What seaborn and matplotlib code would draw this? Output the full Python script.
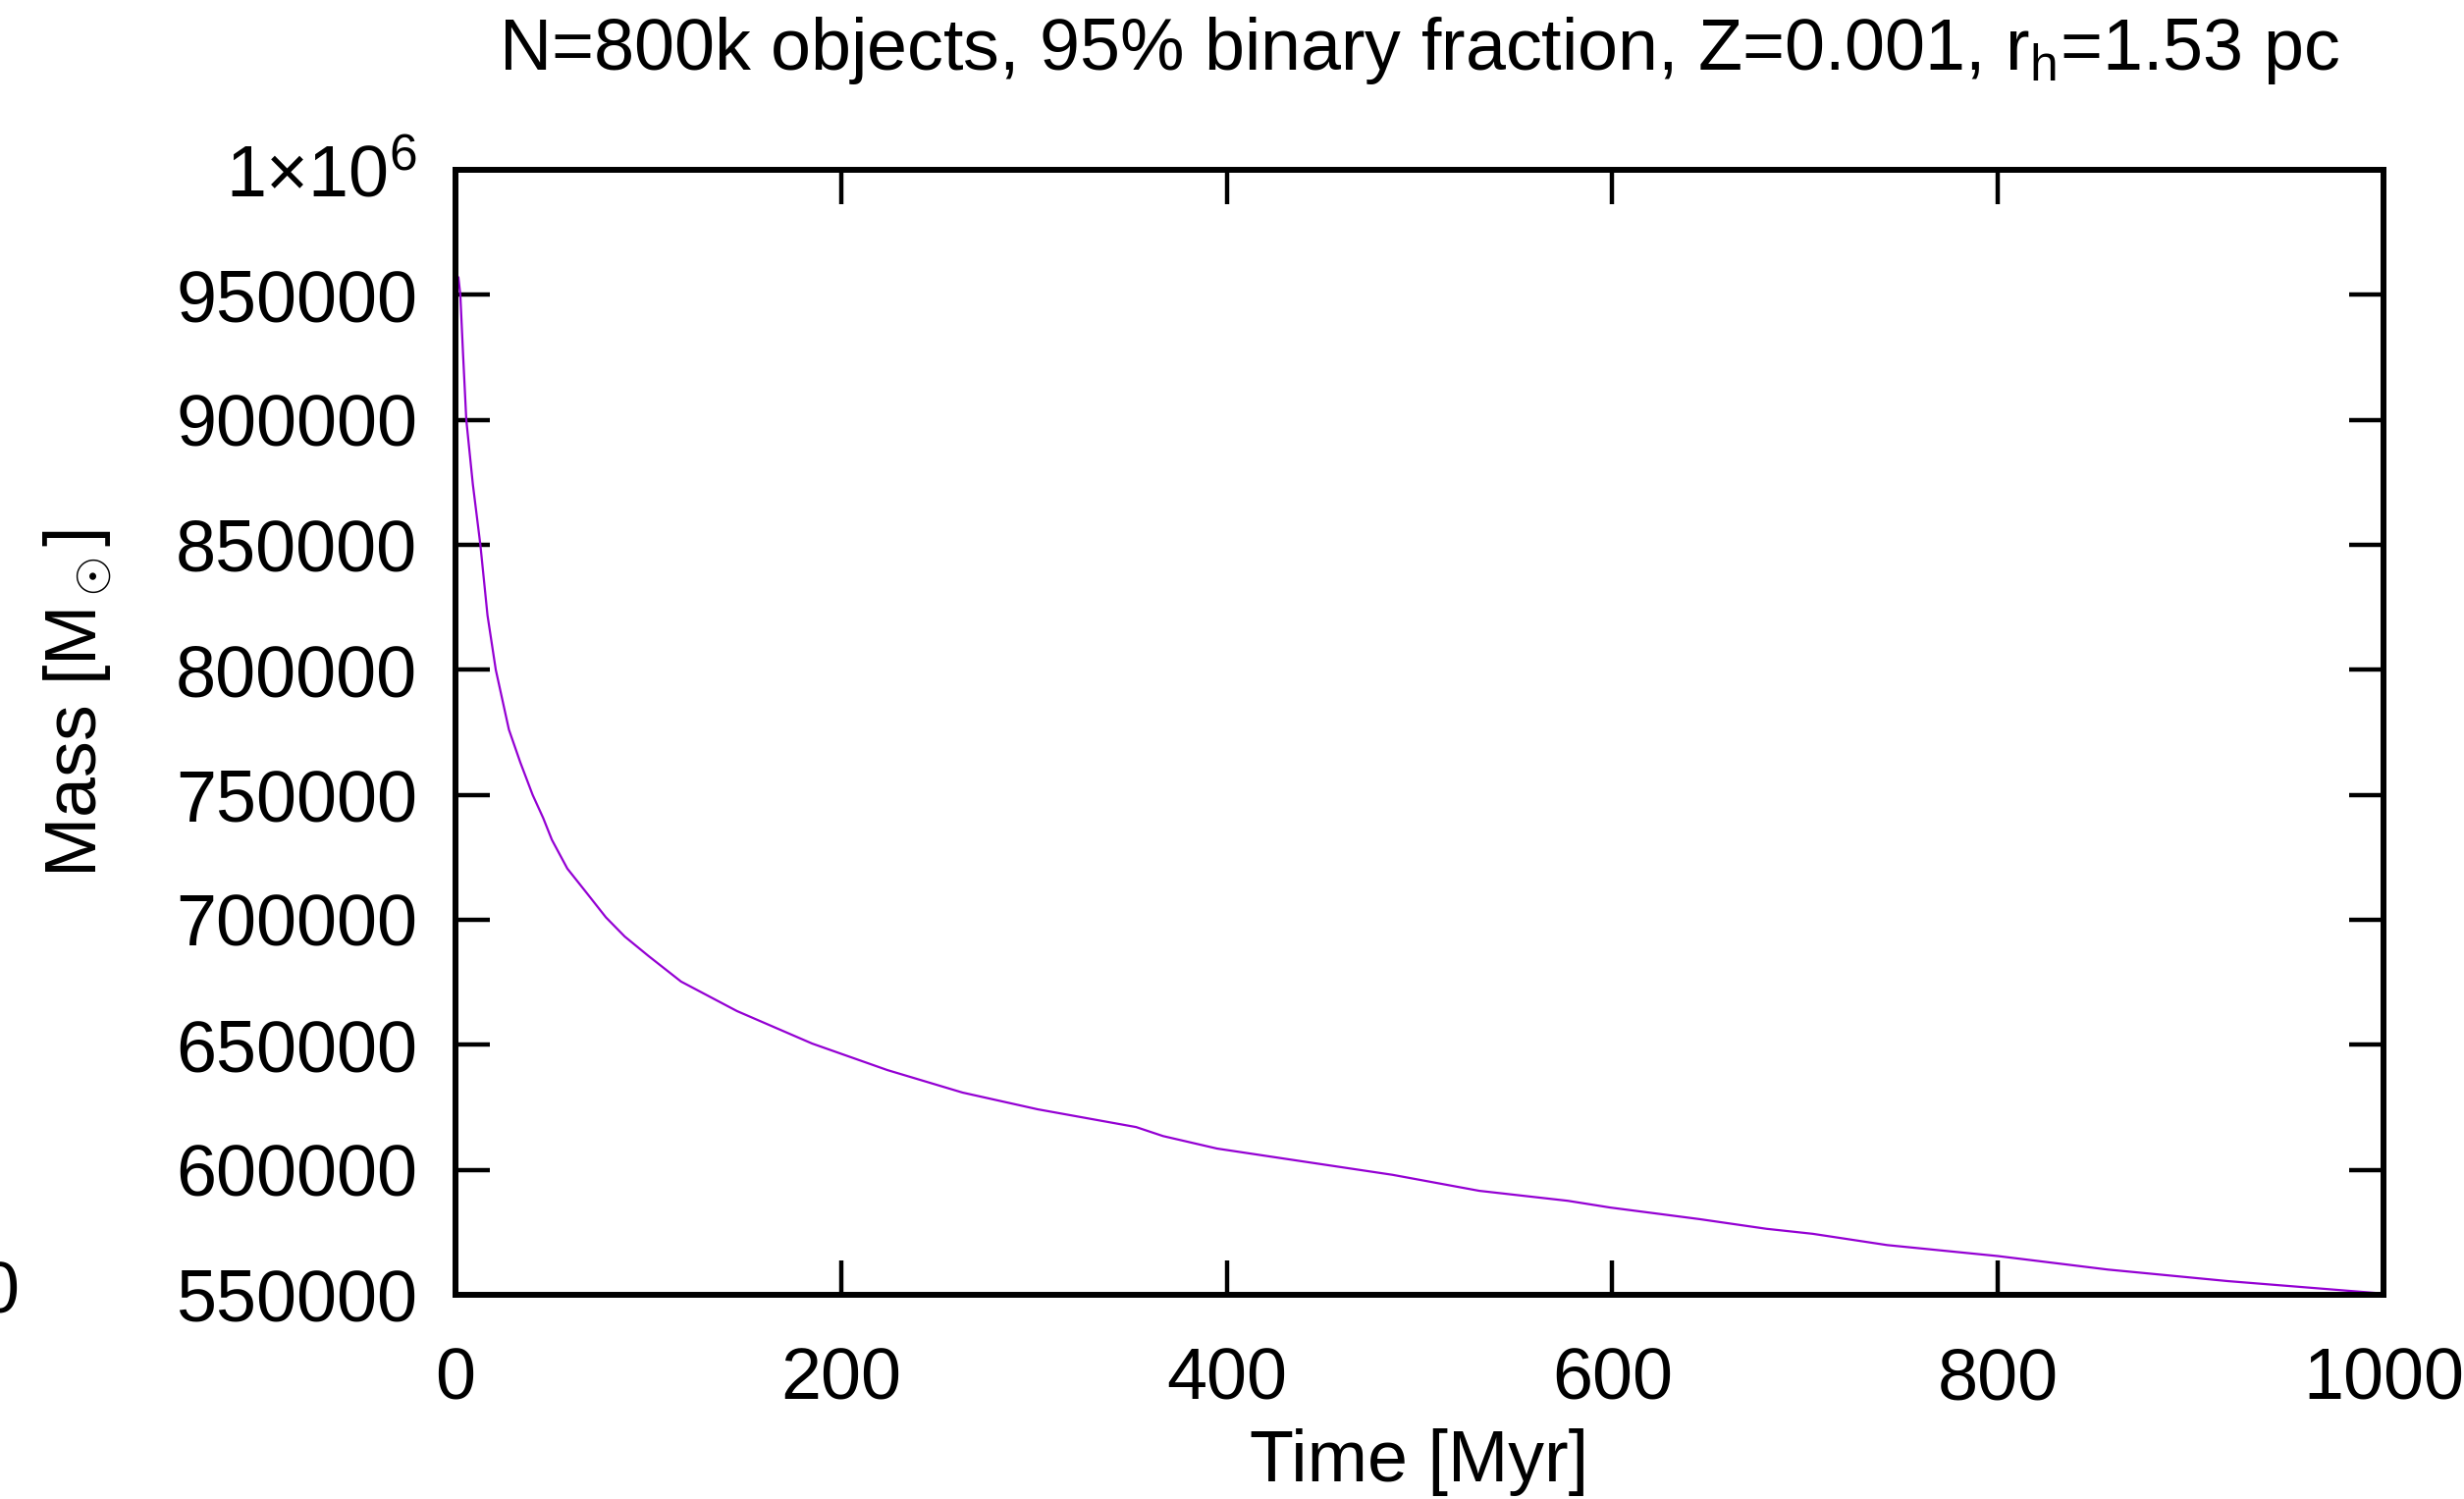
import matplotlib
matplotlib.use("Agg")
import matplotlib.pyplot as plt
import matplotlib.ticker as mticker
import seaborn as sns
import pandas as pd

# Data
time_myr = [0, 1.5, 2.5, 3.9, 5.6, 9, 12.9, 16.6, 20.9, 27.7, 33.6, 40, 45.5, 50,
            58, 68.2, 78, 87.8, 100, 117, 146, 185, 224, 263, 302, 353, 367, 395,
            440, 486, 531, 577, 599, 645, 680, 704, 742.5, 800, 857, 919, 982, 1000]
mass = [958000, 957000, 950000, 926600, 900000, 874200, 850000, 821800, 800000,
        776100, 763000, 750000, 740700, 732000, 720500, 710600, 701000, 693300,
        685600, 675300, 663500, 650500, 639900, 630900, 624200, 617100, 613500,
        608500, 603300, 598000, 591600, 587600, 584900, 580300, 576400, 574400,
        569900, 565500, 560100, 555500, 551600, 550500]
x_ticks = [0, 200, 400, 600, 800, 1000]
y_ticks = [550000, 600000, 650000, 700000, 750000, 800000, 850000, 900000, 950000, 1000000]

title = r"N=800k objects, 95% binary fraction, Z=0.001, r$_\mathregular{h}$=1.53 pc"
xlabel = "Time [Myr]"
ylabel = r"Mass [M$_\odot$]"

df = pd.DataFrame({"t": time_myr, "m": mass})

sns.set_theme(style="white")
plt.rcParams["font.family"] = ["Liberation Sans", "DejaVu Sans"]
plt.rcParams["mathtext.fontset"] = "custom"
plt.rcParams["mathtext.rm"] = "Liberation Sans"
plt.rcParams["mathtext.it"] = "Liberation Sans:italic"
plt.rcParams["mathtext.bf"] = "Liberation Sans:bold"

W, H = 2510, 1527
FS = 53
fig = plt.figure(figsize=(W / 100, H / 100), dpi=100)
fig.patch.set_facecolor("white")
ax = fig.add_axes([464 / W, 1 - 1319 / H, (2428 - 464) / W, (1319 - 173) / H])
ax.set_facecolor("white")

sns.lineplot(data=df, x="t", y="m", ax=ax, color="#9400d3", linewidth=1.6)

ax.set_xlim(0, 1000)
ax.set_ylim(550000, 1000000)
ax.set_xticks(x_ticks)
ax.set_yticks(y_ticks)


def yfmt(v, pos):
    if abs(v - 1e6) < 1:
        return r"$\mathregular{1{\times}10^6}$"
    return f"{int(round(v))}"


ax.yaxis.set_major_formatter(mticker.FuncFormatter(yfmt))
ax.set_xlabel("")
ax.set_ylabel("")

for s in ax.spines.values():
    s.set_visible(True)
    s.set_color("black")
    s.set_linewidth(4.3)

ax.tick_params(axis="both", which="major", direction="in", length=25, width=3.2,
               color="black", labelsize=FS, labelcolor="black",
               top=True, right=True, bottom=True, left=True)
ax.tick_params(axis="y", pad=28)
ax.tick_params(axis="x", pad=38)

fig.text(1446 / W, 1 - 52 / H, title, ha="center", va="center", fontsize=FS, color="black")
fig.text(1446 / W, 1 - 1489 / H, xlabel, ha="center", va="center", fontsize=FS, color="black")
fig.text(80 / W, 1 - 716 / H, ylabel, ha="center", va="center", rotation=90,
         fontsize=FS, color="black")
fig.text(19 / W, 1 - 1318 / H, "0", ha="right", va="center", fontsize=FS, color="black")

fig.savefig("out.png", dpi=100, facecolor="white")
